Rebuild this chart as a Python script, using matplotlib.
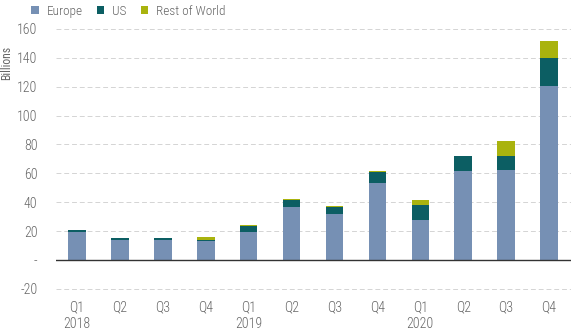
import matplotlib
matplotlib.use("Agg")
import matplotlib.pyplot as plt
import numpy as np

quarters = ["Q1\n2018", "Q2", "Q3", "Q4", "Q1\n2019", "Q2", "Q3", "Q4",
            "Q1\n2020", "Q2", "Q3", "Q4"]
europe = [19.5, 13.5, 14.0, 13.0, 19.3, 36.5, 31.5, 53.5, 28.0, 61.5, 62.5, 120.5]
us = [1.5, 1.7, 1.2, 0.5, 4.0, 5.0, 5.3, 7.5, 10.0, 10.5, 9.8, 19.5]
row = [0.0, 0.3, 0.2, 2.5, 1.0, 1.0, 0.3, 0.5, 3.5, -1.0, 10.0, 11.5]
series_names = ["Europe", "US", "Rest of World"]
colors = ["#7690b4", "#0c5e63", "#a9b30e"]
yticks = [-20, 0, 20, 40, 60, 80, 100, 120, 140, 160]

plt.rcParams["font.family"] = ["Roboto Condensed", "DejaVu Sans"]
plt.rcParams["font.weight"] = "light"

fig = plt.figure(figsize=(5.8, 3.3), dpi=100)
ax = fig.add_axes([0.0957, 0.116, 0.888, 0.805])

x = np.arange(len(quarters))
pos_base = np.zeros(len(x))
neg_base = np.zeros(len(x))
for name, vals, c in zip(series_names, [europe, us, row], colors):
    v = np.array(vals, dtype=float)
    bottoms = np.where(v >= 0, pos_base, neg_base)
    ax.bar(x, v, bottom=bottoms, width=0.41, color=c, label=name, zorder=3)
    pos_base = pos_base + np.where(v >= 0, v, 0)
    neg_base = neg_base + np.where(v < 0, v, 0)

ax.set_xlim(-0.5, len(x) - 0.5)
ax.set_ylim(-22, 162)
ax.set_yticks(yticks)
ax.set_yticklabels(["-" if t == 0 else str(t) for t in yticks])
ax.set_xticks(x)
ax.set_xticklabels(quarters, linespacing=1.3)
for t in yticks:
    if t != 0:
        ax.axhline(t, color="#d4d4d4", lw=0.7, ls=(0, (5, 3)), zorder=1)
ax.axhline(0, color="#333333", lw=1.0, zorder=4)
for s in ax.spines.values():
    s.set_visible(False)
ax.tick_params(axis="both", length=0, colors="#666666", labelsize=10)
ax.tick_params(axis="x", pad=6)
ax.tick_params(axis="y", pad=13)
ax.set_ylabel("Billions", color="#666666", fontsize=8.5)
ax.yaxis.set_label_coords(-0.083, 0.86)

leg = ax.legend(loc="upper left", bbox_to_anchor=(-0.07, 1.125), ncol=3, frameon=False,
                fontsize=9.5, handlelength=0.55, handleheight=0.55, handletextpad=0.6,
                columnspacing=1.1, labelcolor="#666666")

fig.savefig("out.png", dpi=100)
